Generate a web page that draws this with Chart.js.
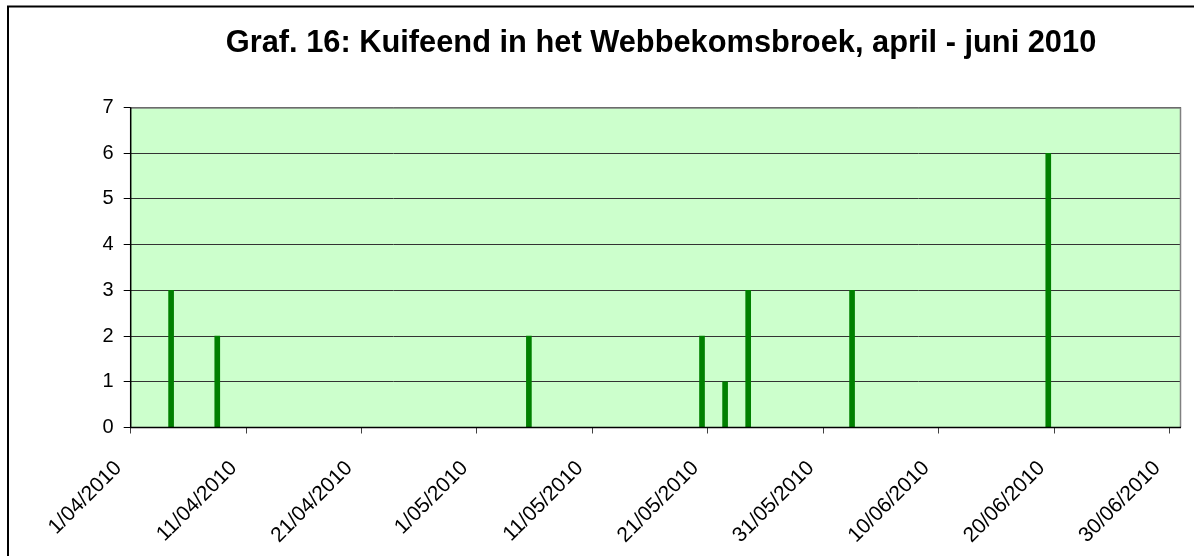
<!DOCTYPE html>
<html>
<head>
<meta charset="utf-8">
<script src="https://cdn.jsdelivr.net/npm/chart.js@4.4.1/dist/chart.umd.min.js"></script>
<style>
  html, body { margin: 0; padding: 0; background: #fff; }
  #wrap { position: relative; width: 1194px; height: 556px; }
</style>
</head>
<body>
<div id="wrap"><canvas id="c" width="1194" height="556"></canvas></div>
<script>
// ---- data ----
const titleText = 'Graf. 16: Kuifeend in het Webbekomsbroek, april - juni 2010';
const startDate = '1/04/2010';
const observationDates = ['4/04/2010', '8/04/2010', '5/05/2010', '20/05/2010', '22/05/2010', '24/05/2010', '2/06/2010', '19/06/2010'];
const counts = [3, 2, 2, 2, 1, 3, 3, 6];
const xTickLabels = ['1/04/2010', '11/04/2010', '21/04/2010', '1/05/2010', '11/05/2010', '21/05/2010', '31/05/2010', '10/06/2010', '20/06/2010', '30/06/2010'];
const yTicks = [0, 1, 2, 3, 4, 5, 6, 7];
const daysShown = 91;

function parseDMY(s) {
  const [d, m, y] = s.split('/').map(Number);
  return Date.UTC(y, m - 1, d);
}
const DAY = 86400000;
const t0 = parseDMY(startDate);
const dayIndex = s => Math.round((parseDMY(s) - t0) / DAY);
const points = observationDates.map((d, i) => ({ x: dayIndex(d) + 0.5, y: counts[i] }));
const tickValues = xTickLabels.map(dayIndex);
const tickLabelMap = {};
xTickLabels.forEach(l => { tickLabelMap[dayIndex(l)] = l; });

const FONT = "'Liberation Sans', Arial, sans-serif";

const framePlugin = {
  id: 'frame',
  beforeDraw(chart) {
    const { ctx, chartArea: a } = chart;
    ctx.save();
    ctx.fillStyle = '#CCFFCC';
    ctx.fillRect(a.left, a.top, a.right - a.left, a.bottom - a.top);
    // outer chart border
    ctx.strokeStyle = '#000';
    ctx.lineWidth = 2;
    ctx.beginPath();
    ctx.moveTo(8, 600);
    ctx.lineTo(8, 6.5);
    ctx.lineTo(1300, 6.5);
    ctx.stroke();
    // title
    ctx.fillStyle = '#000';
    ctx.font = "bold 30.8px " + FONT;
    ctx.textAlign = 'center';
    ctx.textBaseline = 'alphabetic';
    ctx.fillText(titleText, 661, 52);
    ctx.restore();
  },
  afterDatasetsDraw(chart) {
    const { ctx, chartArea: a } = chart;
    ctx.save();
    ctx.strokeStyle = '#808080';
    ctx.lineWidth = 1.5;
    ctx.beginPath();
    ctx.moveTo(a.left, a.top + 0.5);
    ctx.lineTo(a.right - 0.5, a.top + 0.5);
    ctx.lineTo(a.right - 0.5, a.bottom);
    ctx.stroke();
    ctx.strokeStyle = '#000';
    ctx.lineWidth = 1.5;
    ctx.beginPath();
    ctx.moveTo(a.left, a.top);
    ctx.lineTo(a.left, a.bottom);
    ctx.lineTo(a.right, a.bottom);
    ctx.stroke();
    ctx.restore();
  }
};

new Chart(document.getElementById('c'), {
  type: 'bar',
  data: {
    datasets: [{
      data: points,
      backgroundColor: '#008000',
      borderWidth: 0,
      barThickness: 5
    }]
  },
  options: {
    responsive: false,
    animation: false,
    layout: { padding: { left: 20, right: 13, top: 107.5, bottom: 0 } },
    plugins: {
      legend: { display: false },
      tooltip: { enabled: false },
      title: { display: false }
    },
    scales: {
      x: {
        type: 'linear',
        min: 0,
        max: daysShown,
        offset: false,
        afterBuildTicks(scale) { scale.ticks = tickValues.map(v => ({ value: v })); },
        afterFit(scale) {
          scale.height = 556 - 427.5;
          scale.paddingRight = 0;
          scale.paddingLeft = 0;
        },
        ticks: {
          autoSkip: false,
          maxRotation: 45,
          minRotation: 45,
          padding: 10,
          color: '#000',
          font: { family: FONT, size: 21 },
          callback: v => (tickLabelMap[v] || '') + '\u00a0\u00a0\u00a0'
        },
        grid: { offset: false, drawOnChartArea: false, drawTicks: true, tickLength: 6, color: '#404040', tickColor: '#404040' },
        border: { display: false }
      },
      y: {
        min: 0,
        max: 7,
        afterBuildTicks(scale) { scale.ticks = yTicks.map(v => ({ value: v })); },
        afterFit(scale) { scale.width = 130.7 - 20; },
        ticks: {
          padding: 10,
          color: '#000',
          font: { family: FONT, size: 20 }
        },
        grid: { color: '#333333', lineWidth: 1, tickLength: 7, tickColor: '#000' },
        border: { display: false }
      }
    }
  },
  plugins: [framePlugin]
});
</script>
</body>
</html>
